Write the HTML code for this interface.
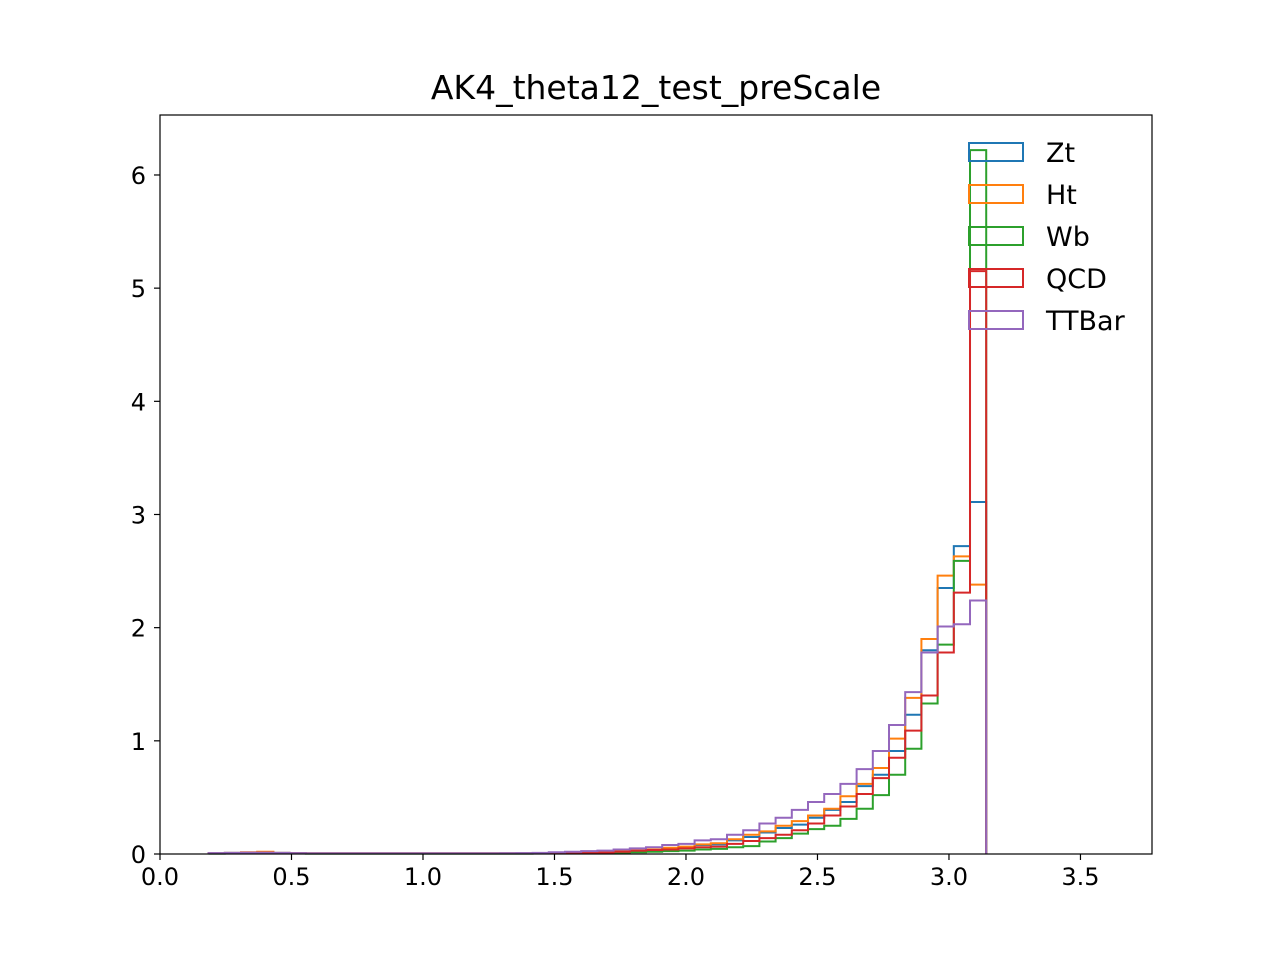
<!DOCTYPE html>
<html><head><meta charset="utf-8"><style>
body{margin:0;background:#fff;font-family:"Liberation Sans","DejaVu Sans",sans-serif}
svg text{font-family:"DejaVu Sans","Liberation Sans",sans-serif}
</style></head><body>
<svg id="chart" width="1280" height="960" xmlns="http://www.w3.org/2000/svg">
<rect width="1280" height="960" fill="#fff"/>
<text x="656" y="99" font-size="33" text-anchor="middle">AK4_theta12_test_preScale</text>
<g id="series"></g>
<rect x="160" y="115" width="992" height="739" fill="none" stroke="#000" stroke-width="1.2"/>
<g id="axes"></g>
<g id="legend"></g>
</svg>
<script>
const seriesNames=["Zt","Ht","Wb","QCD","TTBar"];
const colors=["#1f77b4","#ff7f0e","#2ca02c","#d62728","#9467bd"];
const nBins=51;
const xMax=Math.PI;
const xTicks=[0,0.5,1,1.5,2,2.5,3,3.5];
const xTickLabels=["0.0","0.5","1.0","1.5","2.0","2.5","3.0","3.5"];
const yTicks=[0,1,2,3,4,5,6];
const zt=[0,0,0,0.005,0.01,0.01,0.015,0.01,0.008,0.005,0.005,0.005,0.005,0.005,0.005,0.005,0.005,0.005,0.005,0.005,0.005,0.005,0.006,0.008,0.01,0.012,
0.015,0.02,0.02,0.03,0.04,0.05,0.06,0.08,0.085,0.12,0.15,0.19,0.23,0.26,0.32,0.39,0.46,0.6,0.70,0.91,1.23,1.80,2.35,2.72,3.11];
const ht=[0,0,0,0.005,0.01,0.015,0.02,0.01,0.008,0.005,0.005,0.005,0.005,0.005,0.005,0.005,0.005,0.005,0.005,0.005,0.005,0.005,0.006,0.008,0.01,0.014,
0.018,0.02,0.025,0.03,0.04,0.055,0.065,0.085,0.095,0.13,0.17,0.20,0.25,0.29,0.34,0.40,0.51,0.62,0.76,1.02,1.38,1.90,2.46,2.63,2.38];
const wb=[0,0,0,0.003,0.005,0.005,0.005,0.005,0.004,0.003,0.003,0.003,0.003,0.003,0.003,0.003,0.003,0.003,0.003,0.003,0.003,0.003,0.003,0.004,0.004,0.005,
0.005,0.008,0.01,0.015,0.02,0.025,0.03,0.04,0.045,0.06,0.07,0.11,0.14,0.18,0.22,0.25,0.31,0.40,0.52,0.70,0.93,1.33,1.85,2.59,6.22];
const qcd=[0,0,0,0.005,0.008,0.01,0.01,0.008,0.006,0.005,0.005,0.005,0.005,0.005,0.005,0.005,0.005,0.005,0.005,0.005,0.005,0.005,0.005,0.006,0.008,0.01,
0.01,0.012,0.02,0.03,0.035,0.04,0.05,0.06,0.065,0.09,0.115,0.14,0.17,0.21,0.27,0.34,0.42,0.53,0.67,0.85,1.09,1.40,1.78,2.31,5.15];
const ttbar=[0,0,0,0.008,0.01,0.012,0.012,0.01,0.008,0.006,0.006,0.006,0.006,0.006,0.006,0.006,0.006,0.006,0.006,0.006,0.006,0.007,0.008,0.01,0.015,0.02,
0.025,0.03,0.04,0.05,0.06,0.08,0.09,0.12,0.13,0.17,0.21,0.27,0.32,0.39,0.46,0.53,0.62,0.75,0.91,1.14,1.43,1.78,2.01,2.03,2.24];
const allSeries=[zt,ht,wb,qcd,ttbar];
const X0=160,X1=1152,Y0=854,Y1=115,XMAX=3.772,YMAX=6.53;
const sx=v=>X0+(X1-X0)*v/XMAX;
const sy=v=>Y0-(Y0-Y1)*v/YMAX;
const NS="http://www.w3.org/2000/svg";
const gS=document.getElementById("series");
allSeries.forEach((vals,si)=>{
  const w=xMax/nBins;
  let first=vals.findIndex(v=>v>0); if(first<0) first=0;
  let d="M"+sx(first*w)+","+sy(0);
  for(let i=first;i<vals.length;i++){const v=vals[i];d+=" L"+sx(i*w)+","+sy(v)+" L"+sx((i+1)*w)+","+sy(v);}
  d+=" L"+sx(nBins*w)+","+sy(0);
  const p=document.createElementNS(NS,"path");
  p.setAttribute("d",d);p.setAttribute("fill","none");p.setAttribute("stroke",colors[si]);p.setAttribute("stroke-width","2");
  
  
  gS.appendChild(p);
});
const gA=document.getElementById("axes");
xTicks.forEach((t,i)=>{
  const x=sx(t);
  const l=document.createElementNS(NS,"line");
  l.setAttribute("x1",x);l.setAttribute("x2",x);l.setAttribute("y1",Y0);l.setAttribute("y2",Y0+6);l.setAttribute("stroke","#000");l.setAttribute("stroke-width","1.2");
  
  
  gA.appendChild(l);
  const tx=document.createElementNS(NS,"text");
  tx.setAttribute("x",x);tx.setAttribute("y",Y0+31);tx.setAttribute("font-size","24");tx.setAttribute("text-anchor","middle");
  tx.textContent=xTickLabels[i];
  
  
  gA.appendChild(tx);
});
yTicks.forEach(t=>{
  const y=sy(t);
  const l=document.createElementNS(NS,"line");
  l.setAttribute("x1",X0-6);l.setAttribute("x2",X0);l.setAttribute("y1",y);l.setAttribute("y2",y);l.setAttribute("stroke","#000");l.setAttribute("stroke-width","1.2");
  
  
  gA.appendChild(l);
  const tx=document.createElementNS(NS,"text");
  tx.setAttribute("x",X0-14);tx.setAttribute("y",y+9);tx.setAttribute("font-size","24");tx.setAttribute("text-anchor","end");
  tx.textContent=String(t);
  
  
  gA.appendChild(tx);
});
const gL=document.getElementById("legend");
seriesNames.forEach((n,i)=>{
  const y=152+42*i;
  const r=document.createElementNS(NS,"rect");
  r.setAttribute("x",969);r.setAttribute("y",y-9);r.setAttribute("width",54);r.setAttribute("height",18);
  r.setAttribute("fill","none");r.setAttribute("stroke",colors[i]);r.setAttribute("stroke-width","2");
  
  
  gL.appendChild(r);
  const tx=document.createElementNS(NS,"text");
  tx.setAttribute("x",1046);tx.setAttribute("y",y+10);tx.setAttribute("font-size","27");
  tx.textContent=n;
  
  
  gL.appendChild(tx);
});
</script>
</body></html>
